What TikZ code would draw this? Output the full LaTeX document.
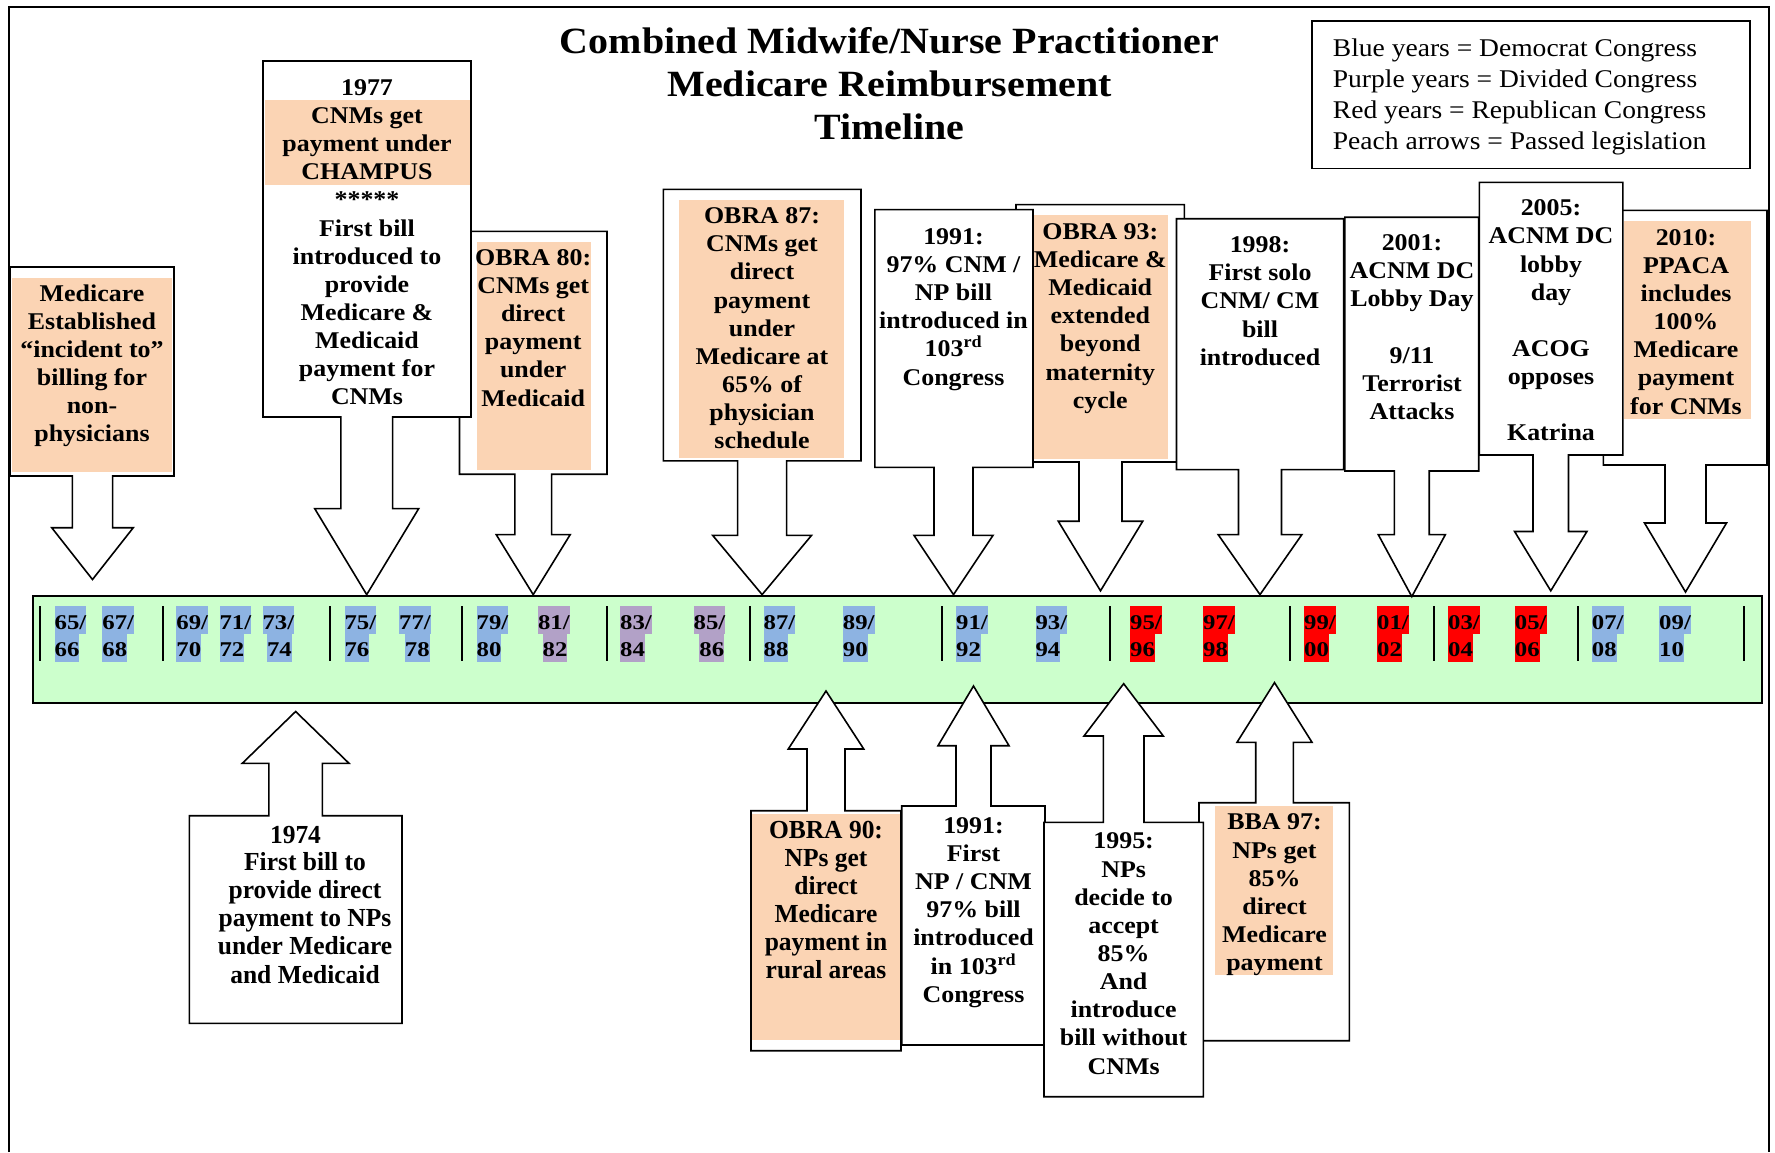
\documentclass[tikz,border=0pt]{standalone}
\usepackage{fontspec}
\setmainfont{Liberation Serif}[FakeStretch=1.08]
\newfontfamily\narrowserif{Liberation Serif}[FakeStretch=0.98]
\newfontfamily\yearserif{Liberation Serif}[FakeStretch=1.18]

\definecolor{peach}{HTML}{FBD4B4}
\definecolor{demblue}{HTML}{8DB3E2}
\definecolor{divpurple}{HTML}{B2A1C7}
\definecolor{repred}{HTML}{FF0000}
\definecolor{barfill}{HTML}{CCFFCC}

% Callout outline: box (#1,#2)-(#3,#4), arrow leaves the side y=#4
% at centre x=#5, shaft half-width #6, head half-width #7,
% head base at y=#8, tip at y=#9.
\newcommand\tlcallout[9]{%
  \draw[callout] (#1,#2) -- (#3,#2) -- (#3,#4) -- ({#5+#6},#4) -- ({#5+#6},#8)
    -- ({#5+#7},#8) -- (#5,#9) -- ({#5-#7},#8) -- ({#5-#6},#8) -- ({#5-#6},#4)
    -- (#1,#4) -- cycle;}

% Two-line congress label: x, upper text, lower text, colour, lower shift
\newcommand\yr[5]{%
  \node[yrlab, fill=#4, anchor=base west] (yt#3) at (#1,629.3) {#2};
  \node[yrlab, fill=#4, anchor=base west] (yb#3) at ({#1+#5},656.9) {#3};}

\tikzset{
  callout/.style={draw=black, line width=1.6pt, fill=white, line join=miter},
  boxtext/.style={font=\bfseries\fontsize{24}{28.15}\selectfont, align=center,
    inner sep=0pt, execute at begin node=\strut, execute at end node=\strut},
  narrowtext/.style={boxtext, font=\narrowserif\bfseries\fontsize{26}{28.1}\selectfont},
  yrlab/.style={font=\yearserif\bfseries\fontsize{21}{27.6}\selectfont,
    inner xsep=0pt, inner ysep=0pt, text height=23pt, text depth=4.9pt},
  sepline/.style={line width=2pt},
  frameline/.style={line width=2.3pt},
}

\begin{document}
\begin{tikzpicture}[x=1pt, y=-1pt]
\useasboundingbox (0,0) rectangle (1775,1152);

% timeline bar
\node[draw=black, line width=1.8pt, fill=barfill, minimum width=1728.5pt,
      minimum height=107.6pt, inner sep=0pt] (bar) at (897.55,649.5) {};
\foreach \sx in {40.2,162.5,330,462,606.8,750.3,941.6,1110,1289.8,1433.7,1577.5,1743.6}
  \draw[sepline] (\sx,606) -- (\sx,661);

\yr{54.5}{65/}{66}{demblue}{0}
\yr{102.2}{67/}{68}{demblue}{0}
\yr{176.2}{69/}{70}{demblue}{0}
\yr{219.3}{71/}{72}{demblue}{0}
\yr{262.3}{73/}{74}{demblue}{4.6}
\yr{344.4}{75/}{76}{demblue}{0}
\yr{399}{77/}{78}{demblue}{5.7}
\yr{476.5}{79/}{80}{demblue}{0}
\yr{537.9}{81/}{82}{divpurple}{4.6}
\yr{620}{83/}{84}{divpurple}{0}
\yr{693.5}{85/}{86}{divpurple}{5.7}
\yr{763.5}{87/}{88}{demblue}{0}
\yr{842.7}{89/}{90}{demblue}{0}
\yr{955.9}{91/}{92}{demblue}{0}
\yr{1035.3}{93/}{94}{demblue}{0}
\yr{1130}{95/}{96}{repred}{0}
\yr{1203}{97/}{98}{repred}{0}
\yr{1304}{99/}{00}{repred}{0}
\yr{1377}{01/}{02}{repred}{0}
\yr{1448}{03/}{04}{repred}{0}
\yr{1514.7}{05/}{06}{repred}{0}
\yr{1591.7}{07/}{08}{demblue}{0}
\yr{1659}{09/}{10}{demblue}{0}

% ---- callouts above the bar ----
\tlcallout{10}{267}{174}{476}{92.5}{20.15}{40.75}{527.7}{579.5}
\fill[peach] (12,278) rectangle (172,472);
\node[boxtext] (medicare) at (92,367.4) {Medicare\\Established\\“incident to”\\billing for\\non-\\physicians};

\tlcallout{459.5}{231.4}{607}{474.2}{533.2}{18.4}{37}{534.6}{594.6}
\fill[peach] (476.5,241.7) rectangle (591,470.4);
\node[boxtext] (obra80) at (533.2,331.9) {OBRA 80:\\CNMs get\\direct\\payment\\under\\Medicaid};

\tlcallout{263}{61}{471}{417}{366.7}{25.9}{52}{508.6}{594.6}
\fill[peach] (264.5,100) rectangle (470,185);
\node[boxtext] (y1977) at (367,246.4) {1977\\CNMs get\\payment under\\CHAMPUS\\*****\\First bill\\introduced to\\provide\\Medicare \&\\Medicaid\\payment for\\CNMs};

\tlcallout{663.3}{189.3}{861}{460.8}{762.1}{24.5}{49.4}{535.4}{594.6}
\fill[peach] (679,199.6) rectangle (844,457.7);
\node[boxtext] (obra87) at (762,332.4) {OBRA 87:\\CNMs get\\direct\\payment\\under\\Medicare at\\65\% of\\physician\\schedule};

\tlcallout{1016}{204.6}{1184.4}{462}{1100.5}{21.5}{42.25}{521.2}{590.8}
\fill[peach] (1034,215.3) rectangle (1167.8,459);
\node[boxtext] (obra93) at (1100.3,320) {OBRA 93:\\Medicare \&\\Medicaid\\extended\\beyond\\maternity\\cycle};

\tlcallout{874.8}{209.6}{1033}{467.3}{953.5}{19.5}{39.5}{535.4}{594.6}
\node[boxtext] (y1991a) at (953.5,310.9) {1991:\\97\% CNM /\\NP bill\\introduced in\\103\textsuperscript{rd}\\Congress};

\tlcallout{1176.5}{218.7}{1343.7}{469.6}{1260}{21.5}{41.85}{534.6}{594.6}
\node[boxtext] (y1998) at (1260,305.1) {1998:\\First solo\\CNM/ CM\\bill\\introduced};

\tlcallout{1344.8}{217.2}{1478.7}{471}{1411.8}{17.4}{33.55}{534.6}{596.6}
\node[boxtext] (y2001) at (1412,331.3) {2001:\\ACNM DC\\Lobby Day\\~\\9/11\\Terrorist\\Attacks};

\tlcallout{1603.4}{210.3}{1767}{465}{1685.5}{20.5}{41}{523}{592}
\fill[peach] (1623.5,221) rectangle (1751.2,418.7);
\node[boxtext] (y2010) at (1686,325.8) {2010:\\PPACA\\includes\\100\%\\Medicare\\payment\\for CNMs};

\tlcallout{1479.4}{182.4}{1622.8}{455}{1550.75}{17.75}{36.15}{531.5}{590.8}
\node[boxtext] (y2005) at (1551,324.6) {2005:\\ACNM DC\\lobby\\day\\~\\ACOG\\opposes\\~\\Katrina};

% ---- callouts below the bar ----
\tlcallout{189.3}{1023.3}{402}{815.7}{295.65}{26.75}{53.35}{763.3}{711.5}
\node[narrowtext] (y1974) at (295.5,838) {1974};
\node[narrowtext] (y1974b) at (305,922) {First bill to\\provide direct\\payment to NPs\\under Medicare\\and Medicaid};

\tlcallout{751}{1050.7}{901}{810.7}{826}{19}{37.75}{749}{691}
\fill[peach] (752,814) rectangle (900,1040);
\node[narrowtext] (obra90) at (826,904.3) {OBRA 90:\\NPs get\\direct\\Medicare\\payment in\\rural areas};

\tlcallout{901.7}{1045}{1045}{806}{973.5}{17.5}{35.5}{745.7}{686}
\node[boxtext] (y1991b) at (973.5,914.1) {1991:\\First\\NP / CNM\\97\% bill\\introduced\\in 103\textsuperscript{rd}\\Congress};

\tlcallout{1199}{1040.7}{1349.3}{802.7}{1274.5}{18.8}{37.5}{742.3}{682.6}
\fill[peach] (1215,806) rectangle (1332.7,975);
\node[boxtext] (bba97) at (1274.5,896.6) {BBA 97:\\NPs get\\85\%\\direct\\Medicare\\payment};

\tlcallout{1044}{1096.7}{1203.3}{822.3}{1123.65}{20.35}{39.65}{736}{683.7}
\node[boxtext] (y1995) at (1123.6,957.8) {1995:\\NPs\\decide to\\accept\\85\%\\And\\introduce\\bill without\\CNMs};

% ---- title and legend ----
\node[font=\bfseries\fontsize{37}{43}\selectfont, align=center, inner sep=0pt,
      execute at begin node=\strut, execute at end node=\strut]
  (title) at (889.5,90.2) {Combined Midwife/Nurse Practitioner\\Medicare Reimbursement\\Timeline};

\draw[line width=1.6pt] (1311.8,21) rectangle (1750,168.3);
\node[font=\fontsize{25.5}{31.2}\selectfont, align=left, anchor=west, inner sep=0pt,
      execute at begin node=\strut, execute at end node=\strut]
  (legend) at (1332.7,98.9) {Blue years = Democrat Congress\\Purple years = Divided Congress\\Red years = Republican Congress\\Peach arrows = Passed legislation};

% ---- page frame ----
\draw[frameline] (8.7,1152) -- (8.7,6.9) -- (487,6.9);
\draw[line width=1.2pt] (487,6.9) -- (1290,6.9);
\draw[frameline] (1290,6.9) -- (1769,6.9) -- (1769,1152);
\end{tikzpicture}
\end{document}
